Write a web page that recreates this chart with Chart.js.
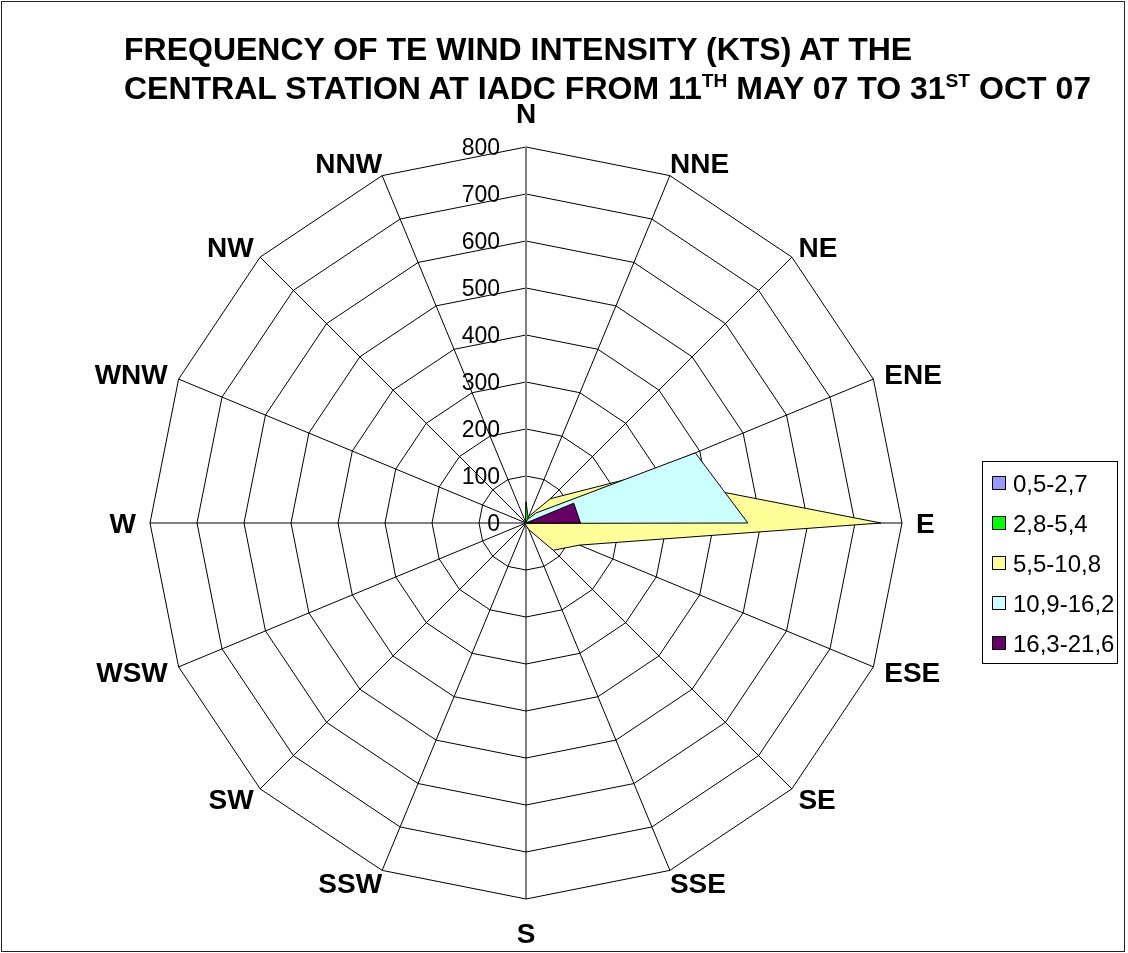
<!DOCTYPE html>
<html>
<head>
<meta charset="utf-8">
<title>Wind intensity at the central station</title>
<script src="https://cdn.jsdelivr.net/npm/chart.js@4.4.0/dist/chart.umd.min.js"></script>
<style>
  body { margin: 0; background: #fff; }
  #wrap { position: relative; width: 1128px; height: 953px; font-family: Arial, "Liberation Sans", sans-serif; }
  canvas { position: absolute; left: 0; top: 0; }
  .title { position: absolute; left: 124px; font-weight: bold; font-size: 32px; line-height: 32px; white-space: nowrap; color: #000; }
  .title sup { font-size: 0.6em; line-height: 0; vertical-align: baseline; position: relative; top: -0.6em; }
  #frame { position: absolute; left: 1px; top: 1px; width: 1124px; height: 951px; border: 1.5px solid #222; box-sizing: border-box; pointer-events: none; }
</style>
</head>
<body>
<div id="wrap">
  <canvas id="myChart" width="1128" height="953"></canvas>
  <div class="title" style="top:33px">FREQUENCY OF TE WIND INTENSITY (KTS) AT THE</div>
  <div class="title" style="top:72px">CENTRAL STATION AT IADC FROM 11<sup>TH</sup> MAY 07 TO 31<sup>ST</sup> OCT 07</div>
  <div id="frame"></div>
</div>
<script>
'use strict';

// directions, clockwise from north
const directions = ['N', 'NNE', 'NE', 'ENE', 'E', 'ESE', 'SE', 'SSE', 'S', 'SSW', 'SW', 'WSW', 'W', 'WNW', 'NW', 'NNW'];

// wind speed classes (kts)
const speedClasses = ['0,5-2,7', '2,8-5,4', '5,5-10,8', '10,9-16,2', '16,3-21,6'];

// frequency per direction, one array per class
const kts05to27 = [1, 1, 1, 2, 2, 1, 1, 1, 1, 0, 0, 0, 1, 1, 1, 1];
const kts28to54 = [45, 12, 8, 5, 5, 3, 3, 3, 3, 2, 2, 2, 3, 3, 5, 3];
const kts55to108 = [0, 15, 73, 262, 755, 123, 82, 15, 5, 2, 2, 2, 2, 2, 2, 2];
const kts109to162 = [0, 8, 30, 390, 472, 2, 0, 0, 0, 0, 0, 0, 0, 0, 0, 0];
const kts163to216 = [0, 0, 0, 110, 116, 0, 0, 0, 0, 0, 0, 0, 0, 0, 0, 0];

const radialTicks = [0, 100, 200, 300, 400, 500, 600, 700, 800];

const fillColors = ['#9999FF', '#00FF00', '#FFFF99', '#CCFFFF', '#660066'];
const allSeries = [kts05to27, kts28to54, kts55to108, kts109to162, kts163to216];

const fontFamily = 'Arial, "Liberation Sans", sans-serif';
const capRatio = 0.716;

let datasets = [];
for (let i = 0; i < allSeries.length; i++) {
  datasets.push({
    label: speedClasses[i],
    data: allSeries[i],
    backgroundColor: fillColors[i],
    borderColor: '#000',
    borderWidth: 1,
    fill: true,
    // later classes sit on top, like the original
    order: allSeries.length - i
  });
}

// direction names placed beside the outer ring
const directionLabels = {
  id: 'directionLabels',
  afterDraw(chart) {
    const scale = chart.scales.r;
    const ctx = chart.ctx;
    const size = 28;
    const capH = size * capRatio;
    ctx.save();
    ctx.font = 'bold ' + size + 'px ' + fontFamily;
    ctx.fillStyle = '#000';
    ctx.textAlign = 'center';
    ctx.textBaseline = 'alphabetic';
    chart.data.labels.forEach((label, i) => {
      const th = scale.getIndexAngle(i);
      const s = Math.sin(th);
      const c = Math.cos(th);
      const v = scale.getPointPosition(i, scale.drawingArea);
      const w = ctx.measureText(label).width;
      let cx, cy;
      if (Math.abs(s) < 0.01) {
        cx = v.x;
        cy = v.y - Math.sign(c) * (24 + capH / 2);
      } else if (Math.abs(c) < 0.01) {
        cx = v.x + Math.sign(s) * (14 + w / 2);
        cy = v.y;
      } else {
        let gx = 20 * Math.abs(s) - 7.6;
        cx = v.x + Math.sign(s) * (gx + w / 2);
        cy = v.y - c * 14;
      }
      ctx.fillText(label, cx, cy + capH / 2);
    });
    ctx.restore();
  }
};

// value labels to the left of the north axis
const valueLabels = {
  id: 'valueLabels',
  afterDraw(chart) {
    const scale = chart.scales.r;
    const ctx = chart.ctx;
    const size = 23;
    ctx.save();
    ctx.font = size + 'px ' + fontFamily;
    ctx.fillStyle = '#000';
    ctx.textAlign = 'right';
    ctx.textBaseline = 'alphabetic';
    scale.ticks.forEach((t) => {
      let y = scale.yCenter - scale.getDistanceFromCenterForValue(t.value);
      ctx.fillText(String(t.value), scale.xCenter - 26, y + size * capRatio / 2);
    });
    ctx.restore();
  }
};

// boxed legend on the right
const boxLegend = {
  id: 'boxLegend',
  afterDraw(chart) {
    const ctx = chart.ctx;
    const size = 24;
    const left = 982, top = 461, width = 135, rowH = 40;
    const sets = chart.data.datasets;
    const height = rowH * sets.length + 2;
    ctx.save();
    ctx.strokeStyle = '#000';
    ctx.lineWidth = 1;
    ctx.strokeRect(left + 0.5, top + 0.5, width, height);
    ctx.font = size + 'px ' + fontFamily;
    ctx.fillStyle = '#000';
    ctx.textBaseline = 'alphabetic';
    ctx.textAlign = 'left';
    for (let i = 0; i < sets.length; i++) {
      let cy = top + 22 + rowH * i;
      ctx.fillStyle = sets[i].backgroundColor;
      ctx.fillRect(left + 10.5, cy - 6.5, 13, 13);
      ctx.strokeRect(left + 10.5, cy - 6.5, 13, 13);
      ctx.fillStyle = '#000';
      ctx.fillText(sets[i].label, left + 31, cy + size * capRatio / 2);
    }
    ctx.restore();
  }
};

const config = {
  type: 'radar',
  data: {
    labels: directions,
    datasets: datasets
  },
  options: {
    responsive: false,
    animation: false,
    layout: {
      padding: { left: 150, top: 147, right: 226, bottom: 54 }
    },
    elements: {
      line: { tension: 0 },
      point: { radius: 0, hoverRadius: 0 }
    },
    plugins: {
      legend: { display: false },
      title: { display: false },
      tooltip: { enabled: false }
    },
    scales: {
      r: {
        min: radialTicks[0],
        max: radialTicks[radialTicks.length - 1],
        ticks: { display: false, stepSize: radialTicks[1] - radialTicks[0] },
        pointLabels: { display: false },
        grid: { color: '#000', lineWidth: 1 },
        angleLines: {
          color: (ctx) => ctx.index === 0 ? '#808080' : '#000',
          lineWidth: (ctx) => ctx.index === 0 ? 2 : 1
        }
      }
    }
  },
  plugins: [directionLabels, valueLabels, boxLegend]
};

const myChart = new Chart(document.getElementById('myChart'), config);
</script>
</body>
</html>
